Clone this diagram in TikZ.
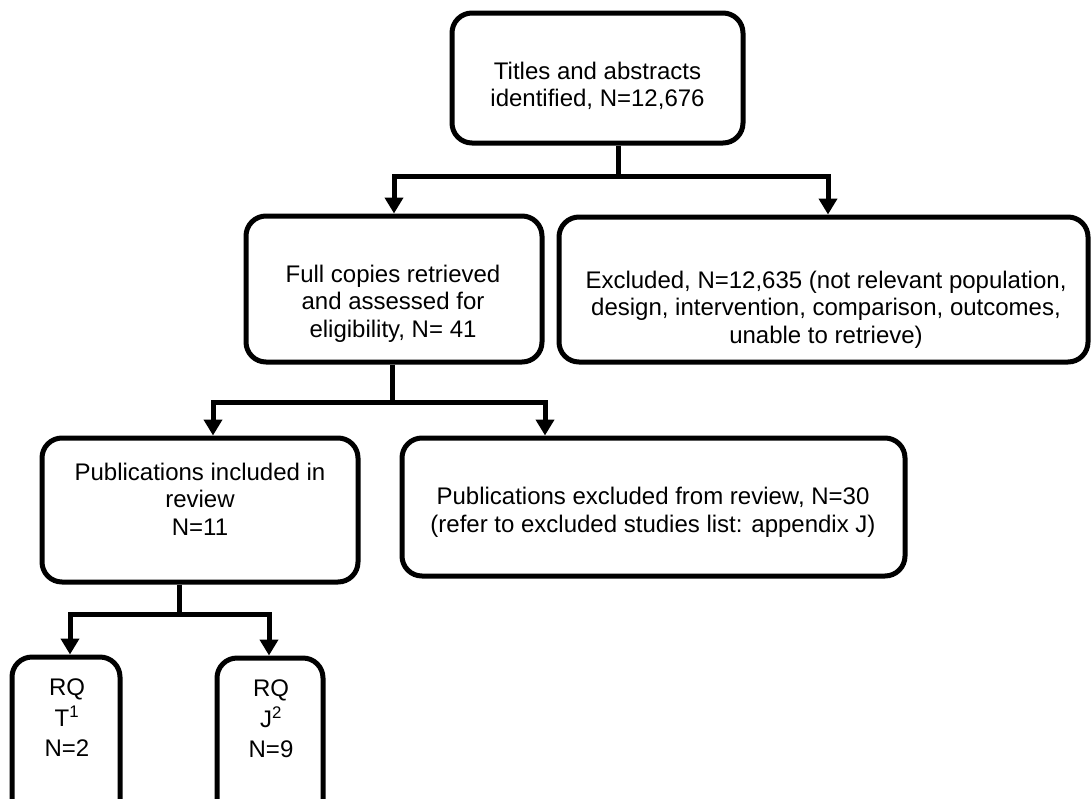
\documentclass[tikz,border=0pt]{standalone}
\usepackage{fontspec}
\setmainfont{Liberation Sans}
\usetikzlibrary{arrows.meta}
\begin{document}
\begin{tikzpicture}[x=1pt,y=-1pt,
  box/.style={draw, line width=5pt, rounded corners=20pt, inner sep=0pt},
  txt/.style={align=center, inner sep=0pt, anchor=north, font=\fontsize{24}{27.5}\selectfont},
  rqtxt/.style={txt, font=\fontsize{24}{30.5}\selectfont},
  conn/.style={line width=5pt},
  arr/.style={conn, -{Triangle[width=18pt,length=16pt]}}]
\useasboundingbox (0,0) rectangle (1091,798);
\fill[white] (0,0) rectangle (1091,798);
\clip (0,0) rectangle (1091,798);

% boxes
\node[box, minimum width=291pt, minimum height=130pt] (T) at (597.5,78) {};
\node[txt] (Tt) at (597.5,61.5) {Titles and abstracts\\identified, N=12,676};

\node[box, minimum width=296pt, minimum height=146pt] (F) at (394,289) {};
\node[txt] (Ft) at (393,264.5) {Full copies retrieved\\and assessed for\\eligibility, N= 41};

\node[box, minimum width=529pt, minimum height=145pt] (E) at (823.5,289.5) {};
\node[txt] (Et) at (826,270.5) {Excluded, N=12,635 (not relevant population,\\design, intervention, comparison, outcomes,\\unable to retrieve)};

\node[box, minimum width=316pt, minimum height=144pt] (PI) at (200,510) {};
\node[txt] (PIt) at (200,462.5) {Publications included in\\review\\N=11};

\node[box, minimum width=503pt, minimum height=138pt] (PE) at (653.5,507) {};
\node[txt] (PEt) at (653,487) {Publications excluded from review, N=30\\(refer to excluded studies list: appendix J)};

\node[box, minimum width=108pt, minimum height=193pt] (RQT) at (66,753.5) {};
\node[rqtxt] (RQTt) at (67,679) {RQ\\T\textsuperscript{1}\\N=2};

\node[box, minimum width=106pt, minimum height=192pt] (RQJ) at (270,754) {};
\node[rqtxt] (RQJt) at (271,680) {RQ\\J\textsuperscript{2}\\N=9};

% junctions
\coordinate (j1) at (618,176);
\coordinate (j2) at (392,402);
\coordinate (j3) at (179,614);

% connectors
\draw[conn] ([xshift=20.5pt]T.south) -- (j1);
\draw[arr] (j1) -| (F.north);
\draw[arr] (j1) -| ([xshift=4.5pt]E.north);

\draw[conn] ([xshift=-2pt]F.south) -- (j2);
\draw[arr] (j2) -| ([xshift=13pt]PI.north);
\draw[arr] (j2) -| ([xshift=-108.5pt]PE.north);

\draw[conn] ([xshift=-21pt]PI.south) -- (j3);
\draw[arr] (j3) -| ([xshift=4pt]RQT.north);
\draw[arr] (j3) -| ([xshift=-1pt]RQJ.north);
\end{tikzpicture}
\end{document}
